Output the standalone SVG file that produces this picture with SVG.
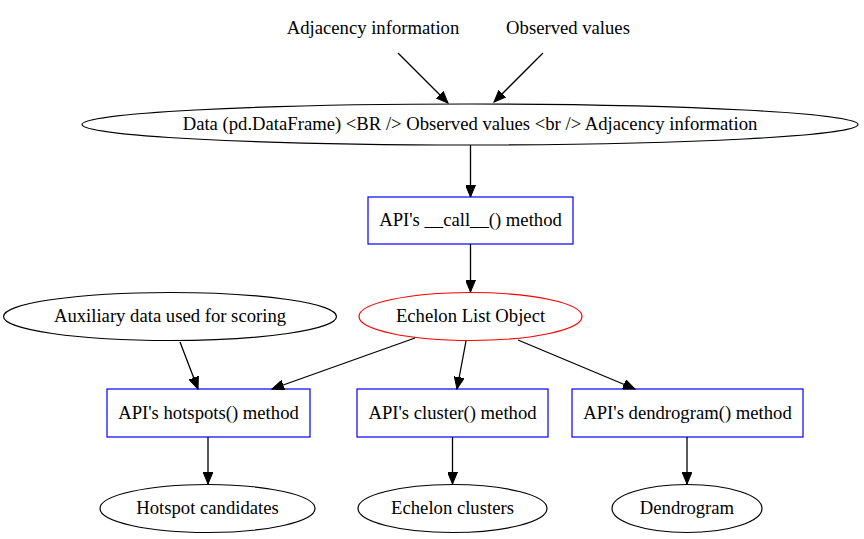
<svg xmlns="http://www.w3.org/2000/svg" width="864" height="539" viewBox="0 0 864 539">
<defs>
<marker id="ah" markerUnits="userSpaceOnUse" markerWidth="14" markerHeight="10" refX="12" refY="5" orient="auto">
<path d="M0,0 L12,5 L0,10 Z" fill="#000" stroke="#000" stroke-width="1"/>
</marker>
<style>
text{font-size:18.67px;fill:#000;text-anchor:middle}
.e{fill:none;stroke:#000;stroke-width:1.2}
.r{fill:none;stroke:#0000ff;stroke-width:1.2}
.red{fill:none;stroke:#ff0000;stroke-width:1.2}
.c{fill:none;stroke:#000;stroke-width:1.3;marker-end:url(#ah)}
</style>
</defs>
<rect width="864" height="539" fill="#fff"/>
<g font-family="Liberation Serif, serif">
<g id="adj"><text x="373" y="34" font-family="Liberation Serif">Adjacency information</text></g>
<g id="obs"><text x="568" y="34" font-family="Liberation Serif">Observed values</text></g>
<g id="data"><ellipse class="e" cx="470" cy="124.5" rx="388" ry="20.5"/><text x="470" y="130" font-family="Liberation Serif">Data (pd.DataFrame) &lt;BR /&gt; Observed values &lt;br /&gt; Adjacency information</text></g>
<g id="call"><rect class="r" x="368" y="197" width="205" height="47"/><text x="470.5" y="226" font-family="Liberation Serif">API's __call__() method</text></g>
<g id="echelon"><ellipse class="red" cx="470.5" cy="316.5" rx="111.5" ry="24"/><text x="470.5" y="322" font-family="Liberation Serif">Echelon List Object</text></g>
<g id="aux"><ellipse class="e" cx="170" cy="316.5" rx="166.5" ry="24"/><text x="170" y="322" font-family="Liberation Serif">Auxiliary data used for scoring</text></g>
<g id="hotspots"><rect class="r" x="107" y="389" width="203" height="48"/><text x="208.5" y="419" font-family="Liberation Serif">API's hotspots() method</text></g>
<g id="cluster"><rect class="r" x="357" y="389" width="191" height="48"/><text x="452.5" y="419" font-family="Liberation Serif">API's cluster() method</text></g>
<g id="dendro"><rect class="r" x="572" y="389" width="231" height="48"/><text x="687.5" y="419" font-family="Liberation Serif">API's dendrogram() method</text></g>
<g id="hc"><ellipse class="e" cx="207.5" cy="508.5" rx="107.5" ry="24"/><text x="207.5" y="514" font-family="Liberation Serif">Hotspot candidates</text></g>
<g id="ec"><ellipse class="e" cx="452.5" cy="508.5" rx="94.5" ry="24"/><text x="452.5" y="514" font-family="Liberation Serif">Echelon clusters</text></g>
<g id="dg"><ellipse class="e" cx="687" cy="508.5" rx="75" ry="24"/><text x="687" y="514" font-family="Liberation Serif">Dendrogram</text></g>
</g>
<g id="connectors">
<path class="c" d="M398,53 L448,103"/>
<path class="c" d="M543,53 L494,102"/>
<path class="c" d="M470.5,145 L470.5,197"/>
<path class="c" d="M470.5,244 L470.5,292"/>
<path class="c" d="M180,342 L198,389"/>
<path class="c" d="M415,338 L272,389"/>
<path class="c" d="M466,341 L457,389"/>
<path class="c" d="M518,340 L635,389"/>
<path class="c" d="M208,437 L208,484"/>
<path class="c" d="M452.5,437 L452.5,484"/>
<path class="c" d="M687,437 L687,484"/>
</g>
</svg>
